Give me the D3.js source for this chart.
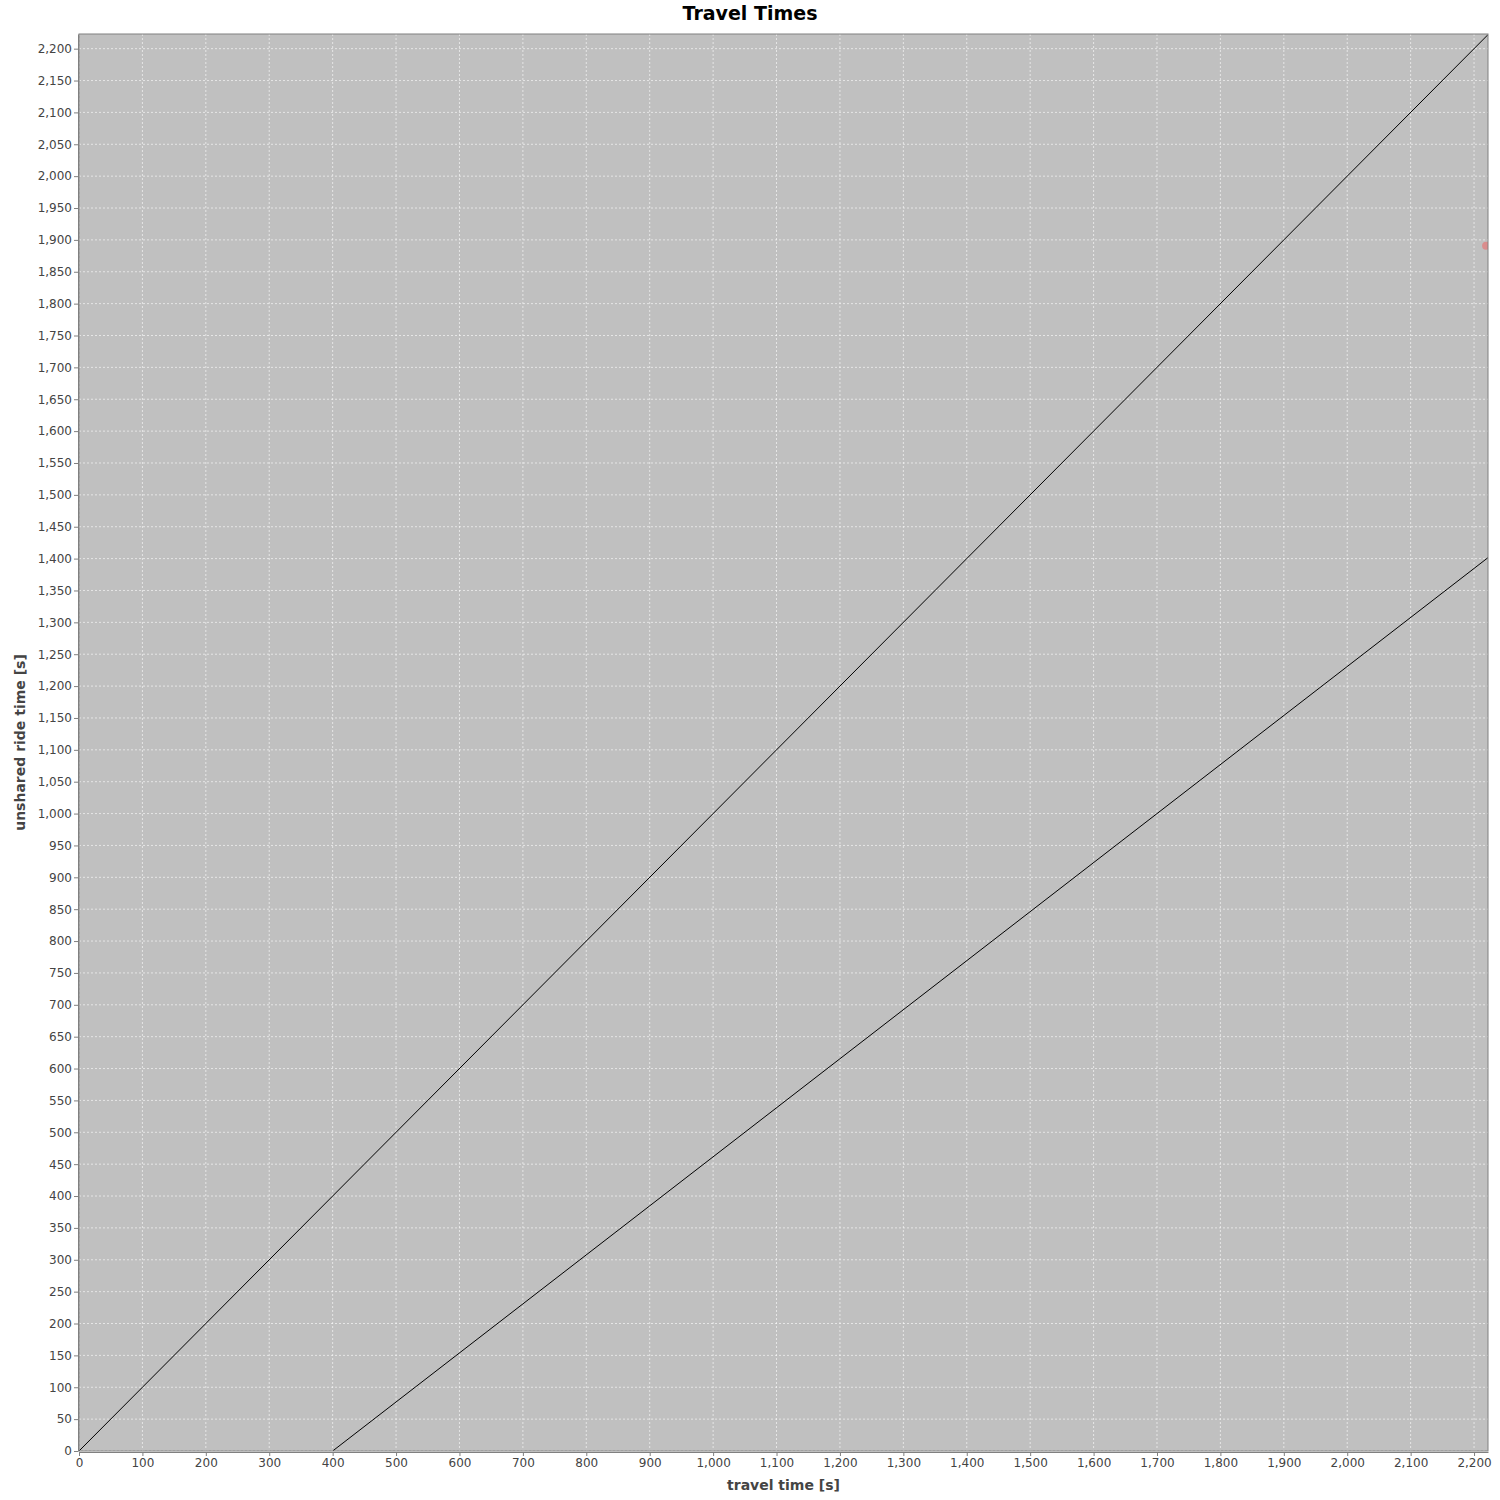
<!DOCTYPE html>
<html>
<head>
<style>
body { margin: 0; background: #fff; }
text { font-family: "DejaVu Sans", sans-serif; }
</style>
</head>
<body>
<script src="https://d3js.org/d3.v7.min.js"></script>
<script>
// data
let xMax = 2222, yMax = 2223;
let tickStep = 50;
let xTickStep = 100;
// reference lines: y = x, and y = (x - 400) / 1.3
let lines = [
    [[0, 0], [2222, 2222]],
    [[400, 0], [2222, 1401.5]]
];
let points = [[2219, 1891]];

let width = 1500, height = 1500;
let m = {left: 79, right: 1488, top: 34, bottom: 1451};

let svg = d3.select("body").append("svg")
    .attr("width", width).attr("height", height);

let x = d3.scaleLinear().domain([0, xMax]).range([m.left, m.right]);
let y = d3.scaleLinear().domain([0, yMax]).range([m.bottom, m.top]);

let xTicks = d3.range(0, 2201, xTickStep);
let yTicks = d3.range(0, 2201, tickStep);
let fmt = d3.format(",");

svg.append("rect")
    .attr("x", m.left).attr("y", m.top)
    .attr("width", m.right - m.left).attr("height", m.bottom - m.top)
    .attr("fill", "#c0c0c0");

// gridlines
svg.append("g").selectAll("line").data(xTicks).join("line")
    .attr("x1", d => x(d)).attr("x2", d => x(d))
    .attr("y1", m.top).attr("y2", m.bottom)
    .attr("stroke", "#fff").attr("stroke-width", 0.6).attr("stroke-dasharray", "2,2");
svg.append("g").selectAll("line").data(yTicks).join("line")
    .attr("y1", d => y(d)).attr("y2", d => y(d))
    .attr("x1", m.left).attr("x2", m.right)
    .attr("stroke", "#fff").attr("stroke-width", 0.6).attr("stroke-dasharray", "2,2");

svg.append("clipPath").attr("id", "clip").append("rect")
    .attr("x", m.left).attr("y", m.top)
    .attr("width", m.right - m.left).attr("height", m.bottom - m.top);

let plot = svg.append("g").attr("clip-path", "url(#clip)");
let line = d3.line().x(d => x(d[0])).y(d => y(d[1]));
plot.selectAll("path").data(lines).join("path")
    .attr("d", line).attr("fill", "none").attr("stroke", "#000").attr("stroke-width", 1);
plot.selectAll("circle").data(points).join("circle")
    .attr("cx", d => x(d[0])).attr("cy", d => y(d[1])).attr("r", 4)
    .attr("fill", "#e08080").attr("opacity", 0.8);

svg.append("rect")
    .attr("x", m.left).attr("y", m.top)
    .attr("width", m.right - m.left).attr("height", m.bottom - m.top)
    .attr("fill", "none").attr("stroke", "#808080").attr("stroke-width", 1);

// axes
let xAxis = svg.append("g").attr("transform", `translate(0,${m.bottom + 1})`)
    .call(d3.axisBottom(x).tickValues(xTicks).tickFormat(fmt).tickSizeInner(4).tickSizeOuter(0).tickPadding(2));
let yAxis = svg.append("g").attr("transform", `translate(${m.left - 1},0)`)
    .call(d3.axisLeft(y).tickValues(yTicks).tickFormat(fmt).tickSizeInner(4).tickSizeOuter(0).tickPadding(2));
[xAxis, yAxis].forEach(a => {
    a.selectAll("path, line").attr("stroke", "#808080");
    a.selectAll("text").attr("fill", "#444").style("font-size", "12px").style("font-family", "DejaVu Sans");
});

svg.append("text").attr("x", width / 2).attr("y", 20)
    .attr("text-anchor", "middle").style("font-size", "19px").style("font-weight", "bold")
    .text("Travel Times");
svg.append("text").attr("x", (m.left + m.right) / 2).attr("y", 1490)
    .attr("text-anchor", "middle").style("font-size", "14px").style("font-weight", "bold").attr("fill", "#444")
    .text("travel time [s]");
svg.append("text").attr("transform", `translate(25,${(m.top + m.bottom) / 2}) rotate(-90)`)
    .attr("text-anchor", "middle").style("font-size", "14px").style("font-weight", "bold").attr("fill", "#444")
    .text("unshared ride time [s]");
</script>
</body>
</html>
